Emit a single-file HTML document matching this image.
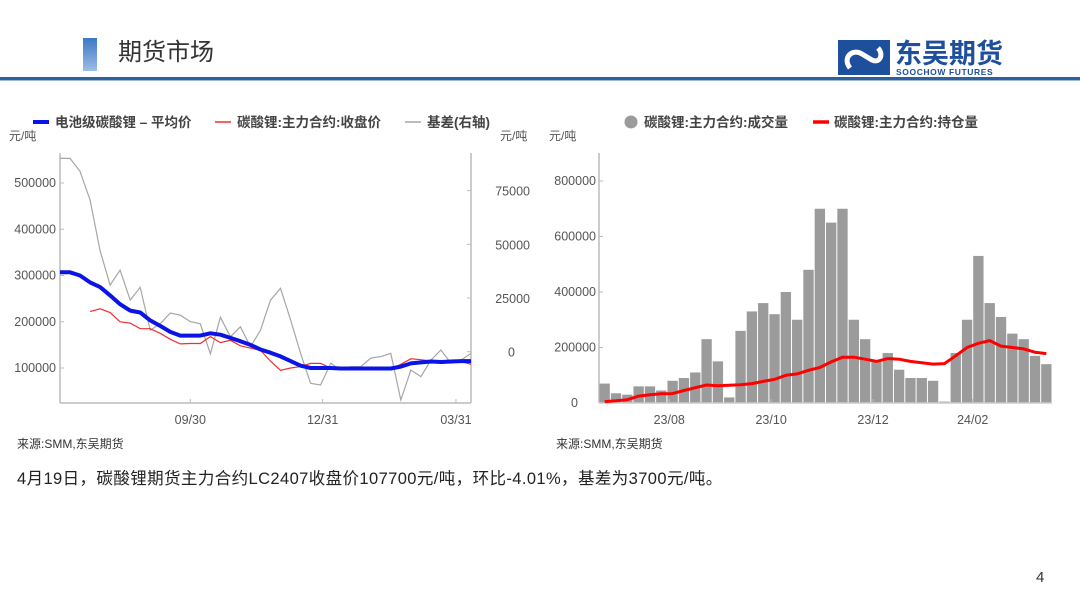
<!DOCTYPE html>
<html><head><meta charset="utf-8">
<style>
body{margin:0;background:#fff;font-family:"Liberation Sans","Noto Sans CJK SC",sans-serif;}
#wrap{position:relative;width:1080px;height:608px;overflow:hidden;background:#fff;}
svg text{font-family:"Liberation Sans","Noto Sans CJK SC",sans-serif;}
</style></head><body>
<div id="wrap">
<svg id="svg" width="1080" height="608" viewBox="0 0 1080 608">
  <defs><linearGradient id="gb" x1="0" y1="0" x2="0" y2="1"><stop offset="0" stop-color="#3d78c4"/><stop offset="1" stop-color="#9dbde6"/></linearGradient></defs>
  <rect x="83" y="38" width="14" height="33" fill="url(#gb)"/>
  <text x="118" y="60" font-size="24" fill="#333">期货市场</text>
  <g>
    <rect x="838" y="40" width="52" height="35" fill="#1d4f9c"/>
    <path d="M850 68 C842 58 852 48 862 54 L872 60 C880 64 884 54 878 48" stroke="#fff" stroke-width="5" fill="none"/>
    <text x="895" y="63" font-size="27" font-weight="bold" fill="#1d4f9c">东吴期货</text>
    <text x="896" y="75" font-size="8.5" font-weight="bold" fill="#1d4f9c" letter-spacing="0.6">SOOCHOW FUTURES</text>
  </g>
  <rect x="0" y="77" width="1080" height="3" fill="#2e5f9e"/>
  <rect x="0" y="80" width="1080" height="1" fill="#9fb8d8"/>
  <g id="left"></g>
  <g id="right"></g>
  <text x="17" y="448" font-size="12" fill="#333">来源:SMM,东吴期货</text>
  <text x="556" y="448" font-size="12" fill="#333">来源:SMM,东吴期货</text>
  <text x="17" y="484" font-size="16.5" letter-spacing="0.4" fill="#222">4月19日，碳酸锂期货主力合约LC2407收盘价107700元/吨，环比-4.01%，基差为3700元/吨。</text>
  <text x="1036" y="582" font-size="15" fill="#333">4</text>
</svg>
</div>
<script>
const NS="http://www.w3.org/2000/svg";
// Left chart data (weekly samples)
const avgPrice=[307000,307000,300000,285000,275000,257000,238000,224000,220000,203000,191000,178000,170000,170000,170000,175000,172000,165000,158000,150000,140000,133000,125000,115000,105000,100000,100000,100000,99000,99000,99000,99000,99000,99000,103000,110000,112000,114000,113000,114000,115000,115000];
const closePrice=[null,null,null,222000,228000,220000,200000,197000,185000,185000,175000,162000,152000,153000,153000,168000,155000,160000,148000,143000,138000,115000,95000,100000,103000,110000,110000,100000,102000,100000,101000,100000,98000,97000,108000,120000,118000,115000,110000,112000,114000,108000];
const basis=[90000,90000,84000,70600,47000,31000,38000,24000,30000,10000,13000,18000,17000,14000,13000,-1000,16000,7000,11600,2300,10000,24000,29500,14800,-800,-14700,-15500,-5400,-8500,-7000,-7000,-3000,-2300,-800,-22500,-8500,-11600,-3900,800,-5400,-3900,-800];
const leftTicks=[100000,200000,300000,400000,500000];
const rightTicks=[0,25000,50000,75000];
const leftXLabels=["09/30","12/31","03/31"];
const leftXLabelIdx=[13,26.2,39.5];
// Right chart data (weekly)
const volume=[70000,35000,30000,60000,60000,45000,80000,90000,110000,230000,150000,20000,260000,330000,360000,320000,400000,300000,480000,700000,650000,700000,300000,230000,150000,180000,120000,90000,90000,80000,5000,180000,300000,530000,360000,310000,250000,230000,170000,140000];
const openInterest=[5000,8000,12000,25000,30000,33000,34000,45000,55000,65000,62000,64000,66000,70000,78000,85000,100000,105000,118000,128000,148000,165000,165000,158000,150000,160000,158000,150000,145000,140000,142000,170000,200000,215000,225000,205000,200000,195000,183000,178000];
const volTicks=[0,200000,400000,600000,800000];
const rXLabels=["23/08","23/10","23/12","24/02"];
const rXLabelIdx=[6.2,15.2,24.2,33];

function el(tag,attrs,parent,txt){const e=document.createElementNS(NS,tag);for(const k in attrs)e.setAttribute(k,attrs[k]);if(txt!=null)e.textContent=txt;parent.appendChild(e);return e;}

// LEFT
const L=document.getElementById('left');
const lx0=60,lx1=471,lyB=403,lyT=153;
const lX=i=>lx0+i*(lx1-lx0)/(avgPrice.length-1);
const lY=v=>368-(v-100000)*46.25/100000;
const rY=v=>351.7-v*53.7/25000;
let a=el('line',{x1:lx0,y1:lyT,x2:lx0,y2:lyB,stroke:'#bbb','stroke-width':1.5},L);

a=el('line',{x1:lx0,y1:lyB,x2:lx1,y2:lyB,stroke:'#bbb','stroke-width':1.5},L);

a=el('line',{x1:lx1,y1:lyT,x2:lx1,y2:lyB,stroke:'#bbb','stroke-width':1.5},L);

leftTicks.forEach(v=>{const y=lY(v);el('line',{x1:lx0,y1:y,x2:lx0+4,y2:y,stroke:'#bbb'},L);
 const t=el('text',{x:56,y:y+4,'font-size':12.5,fill:'#555','text-anchor':'end'},L,String(v));
 });
rightTicks.forEach(v=>{const y=rY(v);el('line',{x1:lx1-4,y1:y,x2:lx1,y2:y,stroke:'#bbb'},L);
 const t=el('text',{x:v===0?515:530,y:y+5,'font-size':12.5,fill:'#555','text-anchor':'end'},L,String(v));
 });
leftXLabels.forEach((s,k)=>{const x=lX(leftXLabelIdx[k]);el('line',{x1:x,y1:lyB-4,x2:x,y2:lyB,stroke:'#bbb'},L);
 const t=el('text',{x:x,y:424,'font-size':12.5,fill:'#555','text-anchor':'middle'},L,s);
 });
let t=el('text',{x:9,y:140,'font-size':12,fill:'#555'},L,'元/吨');
t=el('text',{x:500,y:140,'font-size':12,fill:'#555'},L,'元/吨');
function pathOf(arr,xf,yf){let d='',m=true;arr.forEach((v,i)=>{if(v==null){m=true;return;}d+=(m?'M':'L')+xf(i).toFixed(1)+' '+yf(v).toFixed(1)+' ';m=false;});return d;}
let p=el('path',{d:pathOf(basis,lX,rY),stroke:'#a6a6a6','stroke-width':1.2,fill:'none'},L);

p=el('path',{d:pathOf(closePrice,lX,lY),stroke:'#f03030','stroke-width':1.2,fill:'none'},L);

p=el('path',{d:pathOf(avgPrice,lX,lY),stroke:'#0a14e6','stroke-width':4,fill:'none','stroke-linejoin':'round'},L);

// legend
let g=el('g',{},L);
el('line',{x1:33,y1:122,x2:49,y2:122,stroke:'#0a14e6','stroke-width':4},g);
el('text',{x:55,y:127,'font-size':13.5,'font-weight':'bold',fill:'#444'},g,'电池级碳酸锂 – 平均价');
el('line',{x1:215,y1:122,x2:231,y2:122,stroke:'#f03030','stroke-width':1.5},g);
el('text',{x:237,y:127,'font-size':13.5,'font-weight':'bold',fill:'#444'},g,'碳酸锂:主力合约:收盘价');
el('line',{x1:405,y1:122,x2:421,y2:122,stroke:'#a6a6a6','stroke-width':1.5},g);
el('text',{x:427,y:127,'font-size':13.5,'font-weight':'bold',fill:'#444'},g,'基差(右轴)');

// RIGHT
const R=document.getElementById('right');
const rx0=599,rx1=1052,ryB=403,ryT=153;
const bw=(rx1-rx0)/volume.length;
const vX=i=>rx0+i*bw;
const vY=v=>ryB-v*222/800000;
a=el('line',{x1:rx0,y1:ryT,x2:rx0,y2:ryB,stroke:'#bbb','stroke-width':1.5},R);

volTicks.forEach(v=>{const y=vY(v);el('line',{x1:rx0,y1:y,x2:rx0+4,y2:y,stroke:'#bbb'},R);
 const tt=el('text',{x:v===0?578:596,y:y+4,'font-size':12.5,fill:'#555','text-anchor':'end'},R,String(v));
 });
volume.forEach((v,i)=>{const r=el('rect',{x:vX(i)+0.5,y:vY(v),width:bw-1,height:ryB-vY(v),fill:'#9b9b9b'},R);
 });
a=el('line',{x1:rx0,y1:ryB,x2:rx1,y2:ryB,stroke:'#ccc','stroke-width':1.5},R);

rXLabels.forEach((s,k)=>{const x=vX(rXLabelIdx[k]);el('line',{x1:x,y1:ryB-4,x2:x,y2:ryB,stroke:'#bbb'},R);
 const tt=el('text',{x:x,y:424,'font-size':12.5,fill:'#555','text-anchor':'middle'},R,s);
 });
p=el('path',{d:pathOf(openInterest,i=>vX(i)+bw/2,vY),stroke:'#ff0000','stroke-width':3,fill:'none','stroke-linejoin':'round'},R);

t=el('text',{x:549,y:140,'font-size':12,fill:'#555'},R,'元/吨');
g=el('g',{},R);
el('circle',{cx:631,cy:122,r:6.5,fill:'#9b9b9b'},g);
el('text',{x:644,y:127,'font-size':13.5,'font-weight':'bold',fill:'#444'},g,'碳酸锂:主力合约:成交量');
el('line',{x1:813,y1:122,x2:829,y2:122,stroke:'#ff0000','stroke-width':3.5},g);
el('text',{x:834,y:127,'font-size':13.5,'font-weight':'bold',fill:'#444'},g,'碳酸锂:主力合约:持仓量');
</script>
</body></html>
